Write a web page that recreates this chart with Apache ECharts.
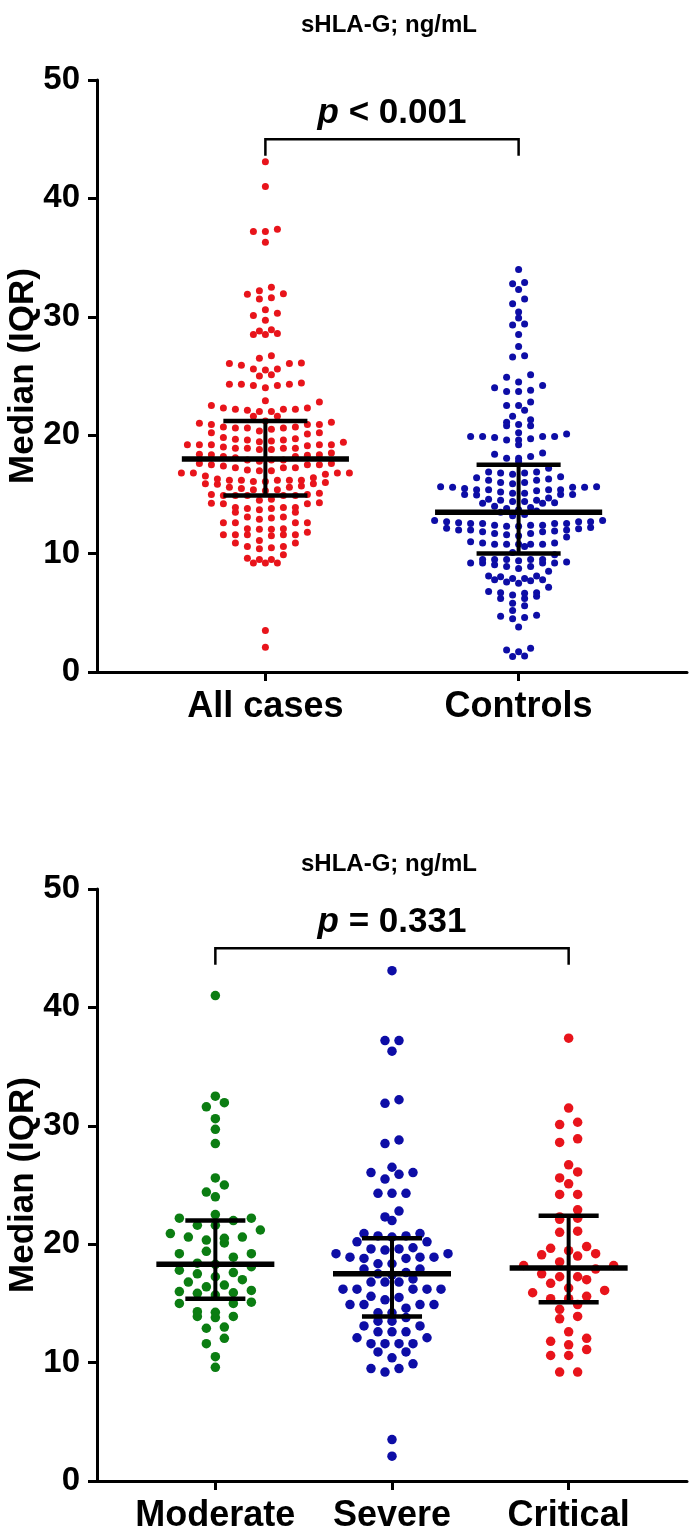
<!DOCTYPE html>
<html><head><meta charset="utf-8">
<script src="https://cdn.jsdelivr.net/npm/echarts@6/dist/echarts.min.js"></script>
<style>html,body{margin:0;padding:0;background:#fff}#c{width:689px;height:1532px}</style>
</head><body><div id="c"></div>
<script>
// ---------- data ----------
const chartTitle = 'sHLA-G; ng/mL';
const yAxisName = 'Median (IQR)';
const topCategories = ['All cases', 'Controls'];
const bottomCategories = ['Moderate', 'Severe', 'Critical'];
const yTicks = [0, 10, 20, 30, 40, 50];

const moderate = [41.0, 32.5, 31.95, 31.6, 30.6, 29.7, 28.5, 25.6, 25.0, 24.4, 24.0,
  22.2, 22.2, 22.5, 22.0, 21.6, 21.6, 21.2, 20.9, 20.35, 20.6, 20.5, 20.6, 20.1, 19.4, 19.2, 19.2,
  18.9, 18.4, 18.3, 18.1, 17.8, 17.5, 17.6, 17.25, 17.0, 16.8, 16.55, 16.4, 16.0, 16.1, 15.9,
  15.85, 15.7, 15.0, 15.1, 15.0, 14.25, 13.8, 13.9, 14.3, 13.9, 12.9, 13.0, 12.05, 11.6, 10.5, 9.6];

const severe = [43.1, 37.2, 37.2, 36.3, 32.2, 31.9, 28.8, 28.5, 26.5, 26.05, 25.5, 26.05, 25.9,
  24.3, 24.3, 24.3, 22.3, 22.8, 22.0,
  20.9, 20.7, 20.6, 20.7, 20.9, 20.2, 20.2, 19.7, 19.6, 19.6, 19.5, 19.2, 19.2,
  18.9, 18.8, 18.9, 18.8, 18.9, 18.35, 18.35, 17.9, 17.9, 17.6, 17.5, 17.4, 17.06,
  16.8, 16.8, 16.8, 16.2, 16.2, 16.2, 16.2, 16.2, 15.6, 15.5, 15.3,
  14.9, 14.9, 14.9, 14.9, 14.6, 14.2, 14.2, 13.8, 13.5, 13.5, 13.1, 13.1,
  12.6, 12.6, 12.6, 12.1, 12.1, 11.6, 11.6, 11.6, 11.6, 10.9, 10.9, 10.4, 9.9, 9.5, 9.5, 9.2,
  3.5, 2.1];

const critical = [37.4, 31.5, 30.1, 30.3, 28.9, 28.6, 26.7, 26.1, 25.6, 25.1, 24.2, 24.2, 22.9,
  22.2, 22.3, 22.1, 21.0, 21.1, 19.65, 19.45, 19.8, 19.0, 19.1, 19.2, 18.2, 18.2, 18.5, 17.9,
  17.5, 17.25, 17.25, 17.0, 16.7, 16.3, 16.1, 15.9, 15.4, 15.6, 15.4, 14.9, 14.5, 13.9, 13.7,
  12.6, 11.8, 12.05, 11.1, 11.5, 10.6, 10.6, 9.2, 9.2];

const allCases = moderate.concat(severe, critical);

const controls = [34.0, 32.9, 32.8, 32.3, 31.5, 31.1, 30.4, 29.9, 29.4, 29.3, 28.5,
  27.5, 26.7, 26.6, 25.1, 24.9, 24.5, 24.2, 23.8, 23.7, 23.7, 24.0, 22.8, 22.1, 22.5, 22.5,
  21.6, 21.3, 20.8, 21.1, 20.8, 20.9,
  19.9, 19.9, 19.9, 19.8, 19.9, 19.6, 19.7, 20.2, 19.6, 20.1, 19.2,
  18.4, 18.05, 18.05, 18.2, 18.5, 17.8,
  16.9, 16.8, 16.2, 17.2, 16.5, 16.9, 16.3, 16.8, 16.2, 16.7, 16.4, 16.0, 16.0,
  15.6, 15.4, 15.4, 15.65, 15.1, 14.4, 15.6, 15.0, 14.3, 15.1, 14.4, 15.3, 14.5, 15.65, 15.0,
  14.25, 15.9, 15.2, 14.7, 15.4, 14.5, 15.4, 14.95, 14.25, 15.6, 15.5, 15.0, 14.6,
  13.3, 13.5, 13.6, 13.8, 13.9, 14.0, 13.2, 13.7,
  12.55, 12.4, 12.55, 12.4, 11.85, 12.7, 12.1, 11.6, 12.8, 12.3, 11.7, 12.55, 12.0, 11.4,
  12.7, 12.0, 12.7, 12.15, 11.7, 12.55, 12.0, 11.5, 11.9, 12.6, 11.85, 12.8, 12.3, 12.4, 12.2,
  10.9, 10.8, 10.8, 10.6, 10.8, 10.8, 10.8, 10.9, 10.1, 11.0,
  9.5, 9.9, 9.2, 9.2, 9.2, 9.5, 8.9, 8.5, 9.5, 8.9, 9.5, 8.75, 9.4, 9.5, 9.05, 9.2, 9.3,
  7.9, 8.1, 7.6, 7.8, 7.7, 7.15, 7.8, 8.1, 7.5, 8.05, 7.9,
  6.5, 6.65, 6.7, 6.7, 6.2, 5.8, 6.8, 6.2, 5.6, 6.4,
  5.2, 4.6, 4.7, 4.5, 4.8, 3.8,
  1.86, 1.3, 2.0, 1.35, 1.7];

// median, q1, q3 per group
const topMedian = [18.0, 13.5];
const topQ1 = [14.9, 10.0];
const topQ3 = [21.2, 17.5];
const bottomMedian = [18.3, 17.5, 18.0];
const bottomQ1 = [15.4, 13.9, 15.1];
const bottomQ3 = [22.0, 20.5, 22.4];

const topPValue = ' < 0.001';
const bottomPValue = ' = 0.331';
const bracketLevel = 45;
const bracketDrop = 43.6;

// ---------- layout ----------
const FONT = 'Liberation Sans, Arial, sans-serif';
const gridLeft = 97, gridWidth = 590, gridHeight = 592;
const topGridTop = 80, bottomGridTop = 889;
const topXMin = -0.665, topXMax = 1.665;
const botXMin = -0.67, botXMax = 2.67;
const pxPerY = gridHeight / 50;
const topPxPerX = gridWidth / (topXMax - topXMin);
const botPxPerX = gridWidth / (botXMax - botXMin);

function swarm(values, center, pxPerX, binPx, spacingPx) {
  const sorted = values.slice().sort((a, b) => a - b);
  const binVal = binPx / pxPerY;
  const groups = [];
  let cur = null, key = null;
  for (const v of sorted) {
    const k = Math.floor(v / binVal);
    if (k !== key) { cur = []; groups.push(cur); key = k; }
    cur.push(v);
  }
  const pts = [];
  for (const g of groups) {
    const n = g.length;
    const slots = [];
    for (let i = 0; i < n; i++) slots.push(i - (n - 1) / 2);
    slots.sort((a, b) => Math.abs(a) - Math.abs(b) || a - b);
    g.forEach((v, i) => pts.push([center + slots[i] * spacingPx / pxPerX, v]));
  }
  return pts;
}

function summaryRender(medHalf, capHalf) {
  return function (params, api) {
    const x = api.value(0), m = api.value(1), q1 = api.value(2), q3 = api.value(3);
    const a = api.coord([x - medHalf, m]), b = api.coord([x + medHalf, m]);
    const c1 = api.coord([x - capHalf, q1]), c2 = api.coord([x + capHalf, q1]);
    const d1 = api.coord([x - capHalf, q3]), d2 = api.coord([x + capHalf, q3]);
    const v1 = api.coord([x, q1]), v2 = api.coord([x, q3]);
    const st = (w) => ({ stroke: '#000', lineWidth: w });
    return { type: 'group', children: [
      { type: 'line', shape: { x1: v1[0], y1: v1[1], x2: v2[0], y2: v2[1] }, style: st(4) },
      { type: 'line', shape: { x1: c1[0], y1: c1[1], x2: c2[0], y2: c2[1] }, style: st(4.5) },
      { type: 'line', shape: { x1: d1[0], y1: d1[1], x2: d2[0], y2: d2[1] }, style: st(4.5) },
      { type: 'line', shape: { x1: a[0], y1: a[1], x2: b[0], y2: b[1] }, style: st(5.5) }
    ]};
  };
}

function bracketRender(label) {
  return function (params, api) {
    const x1 = api.value(0), x2 = api.value(1), lv = api.value(2), dr = api.value(3);
    const p1 = api.coord([x1, dr]), p2 = api.coord([x1, lv]);
    const p3 = api.coord([x2, lv]), p4 = api.coord([x2, dr]);
    return { type: 'group', children: [
      { type: 'polyline', shape: { points: [p1, p2, p3, p4] },
        style: { stroke: '#000', lineWidth: 2.5, fill: null } },
      { type: 'text', x: (p2[0] + p3[0]) / 2, y: p2[1] - 8,
        style: { text: '{i|p}{n|' + label + '}', align: 'center', verticalAlign: 'bottom',
          rich: {
            i: { fontStyle: 'italic', fontWeight: 'bold', fontSize: 35, fontFamily: FONT, fill: '#000' },
            n: { fontWeight: 'bold', fontSize: 35, fontFamily: FONT, fill: '#000' }
          } } }
    ]};
  };
}

const axisLineStyle = { color: '#000', width: 3 };
function makeX(gridIndex, min, max, cats) {
  const idx = cats.map((c, i) => i);
  return {
    gridIndex, type: 'value', min, max,
    axisLine: { show: true, onZero: false, lineStyle: axisLineStyle },
    splitLine: { show: false },
    axisTick: { show: true, customValues: idx, length: 9, lineStyle: { color: '#000', width: 3 } },
    axisLabel: { show: true, customValues: idx, formatter: v => cats[Math.round(v)] || '',
      fontSize: 36, fontWeight: 'bold', color: '#000', fontFamily: FONT, margin: 17 }
  };
}
function makeY(gridIndex) {
  return {
    gridIndex, type: 'value', min: yTicks[0], max: yTicks[yTicks.length - 1], interval: 10,
    name: yAxisName, nameLocation: 'middle', nameGap: 56, nameMoveOverlap: false,
    nameTextStyle: { fontSize: 35, fontWeight: 'bold', color: '#000', fontFamily: FONT },
    axisLine: { show: true, onZero: false, lineStyle: axisLineStyle },
    axisTick: { show: true, length: 9, lineStyle: { color: '#000', width: 3 } },
    axisLabel: { fontSize: 33, fontWeight: 'bold', color: '#000', fontFamily: FONT, margin: 17 },
    splitLine: { show: false }
  };
}

const RED = '#e8141b', BLUE = '#0d0da6', GREEN = '#0b7d12';
const topDot = 7, botDot = 9.5;

const option = {
  animation: false,
  backgroundColor: '#fff',
  title: [
    { text: chartTitle, left: 384, top: 8, textAlign: 'center',
      textStyle: { fontSize: 24, fontWeight: 'bold', color: '#000', fontFamily: FONT } },
    { text: chartTitle, left: 384, top: 847, textAlign: 'center',
      textStyle: { fontSize: 24, fontWeight: 'bold', color: '#000', fontFamily: FONT } }
  ],
  grid: [
    { left: gridLeft, width: gridWidth, top: topGridTop, height: gridHeight, containLabel: false, outerBoundsMode: 'none' },
    { left: gridLeft, width: gridWidth, top: bottomGridTop, height: gridHeight, containLabel: false, outerBoundsMode: 'none' }
  ],
  xAxis: [makeX(0, topXMin, topXMax, topCategories), makeX(1, botXMin, botXMax, bottomCategories)],
  yAxis: [makeY(0), makeY(1)],
  series: [
    { type: 'scatter', xAxisIndex: 0, yAxisIndex: 0, symbolSize: topDot, itemStyle: { color: RED, opacity: 1 },
      data: swarm(allCases, 0, topPxPerX, 10, 12), silent: true },
    { type: 'scatter', xAxisIndex: 0, yAxisIndex: 0, symbolSize: topDot, itemStyle: { color: BLUE, opacity: 1 },
      data: swarm(controls, 1, topPxPerX, 8.5, 12), silent: true },
    { type: 'scatter', xAxisIndex: 1, yAxisIndex: 1, symbolSize: botDot, itemStyle: { color: GREEN, opacity: 1 },
      data: swarm(moderate, 0, botPxPerX, 12, 18), silent: true },
    { type: 'scatter', xAxisIndex: 1, yAxisIndex: 1, symbolSize: botDot, itemStyle: { color: BLUE, opacity: 1 },
      data: swarm(severe, 1, botPxPerX, 12, 14), silent: true },
    { type: 'scatter', xAxisIndex: 1, yAxisIndex: 1, symbolSize: botDot, itemStyle: { color: RED, opacity: 1 },
      data: swarm(critical, 2, botPxPerX, 12, 18), silent: true },
    { type: 'custom', xAxisIndex: 0, yAxisIndex: 0, z: 10, silent: true,
      renderItem: summaryRender(0.33, 0.166),
      data: topCategories.map((c, i) => [i, topMedian[i], topQ1[i], topQ3[i]]) },
    { type: 'custom', xAxisIndex: 1, yAxisIndex: 1, z: 10, silent: true,
      renderItem: summaryRender(0.334, 0.17),
      data: bottomCategories.map((c, i) => [i, bottomMedian[i], bottomQ1[i], bottomQ3[i]]) },
    { type: 'custom', xAxisIndex: 0, yAxisIndex: 0, z: 10, silent: true,
      renderItem: bracketRender(topPValue), data: [[0, 1, bracketLevel, bracketDrop]] },
    { type: 'custom', xAxisIndex: 1, yAxisIndex: 1, z: 10, silent: true,
      renderItem: bracketRender(bottomPValue), data: [[0, 2, bracketLevel, bracketDrop]] }
  ]
};
const chart = echarts.init(document.getElementById('c'), null, { renderer: 'canvas' });
chart.setOption(option);
</script>
</body></html>
